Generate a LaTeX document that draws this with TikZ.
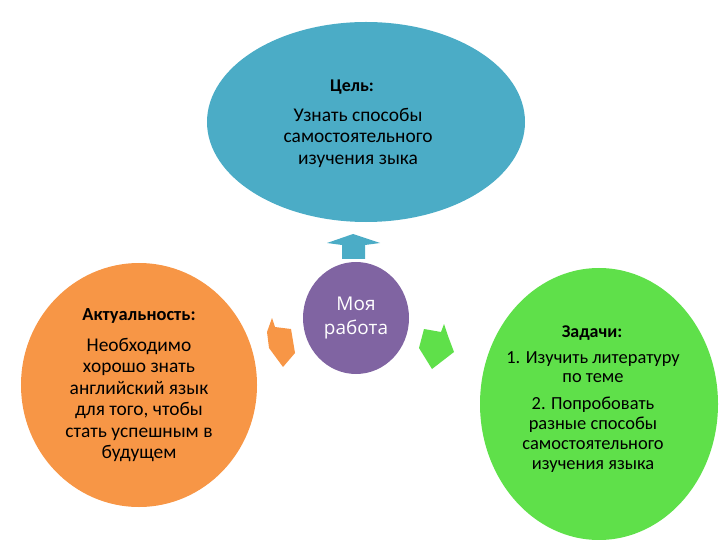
\documentclass[tikz,border=0pt]{standalone}
\usepackage{fontspec}
\setmainfont{Carlito}
\newfontfamily\rabotafont{Open Sans}
\usetikzlibrary{shapes.geometric}
\definecolor{goalblue}{HTML}{4BACC6}
\definecolor{workpurple}{HTML}{8064A2}
\definecolor{actorange}{HTML}{F79646}
\definecolor{taskgreen}{HTML}{5FE04A}
\tikzset{blob/.style={ellipse,inner sep=0pt},
  txt/.style={align=center,inner sep=0pt,font=\fontsize{19.5}{21.5}\selectfont},
  head/.style={font=\bfseries\fontsize{#1}{20}\selectfont}}

\begin{document}
\begin{tikzpicture}[x=1bp,y=-1bp]
\useasboundingbox (0,0) rectangle (720,540);
\node[blob,fill=goalblue,minimum width=318bp,minimum height=200bp] (goal) at (366,122) {};
\node[blob,fill=workpurple,minimum width=106bp,minimum height=112bp] (work) at (356,318) {};
\node[blob,fill=actorange,minimum width=236bp,minimum height=244bp] (act) at (139,385) {};
\node[blob,fill=taskgreen,minimum width=238bp,minimum height=272bp] (task) at (599,404) {};
% text
\node[txt,head=18] (goalhead) at (352,87) {Цель:};
\node[txt,anchor=north] (goaltext) at (358,108) {Узнать способы\\самостоятельного\\изучения зыка};
\node[txt,text=white,font=\fontsize{19}{24}\rabotafont] (worktext) at (356,318) {Моя\\работа};
\node[txt,head=18.5] (acthead) at (139,316) {Актуальность:};
\node[txt,anchor=north] (acttext) at (139,338) {Необходимо\\хорошо знать\\английский язык\\для того, чтобы\\стать успешным в\\будущем};
\node[txt,head=18] (taskhead) at (592,333) {Задачи:};
\node[txt,anchor=north,font=\fontsize{18.5}{20}\selectfont] (tasktext) at (593,351) {1. Изучить литературу\\по теме\\[7bp]2. Попробовать\\разные способы\\самостоятельного\\изучения языка};
% arrows
\fill[goalblue] (353,234) -- (380,243) -- (365,245) -- (365,259) -- (342,259) -- (342,245) -- (327,243) -- cycle;
\fill[actorange] (272,318) -- (275,327) -- (291,329) -- (295,353) -- (283,367) -- (269,348) -- (267,332) -- cycle;
\fill[taskgreen] (424,329) -- (441,332) -- (444,324) -- (448,336) -- (454,352) -- (432,369) -- (419,348) -- cycle;
\end{tikzpicture}
\end{document}
